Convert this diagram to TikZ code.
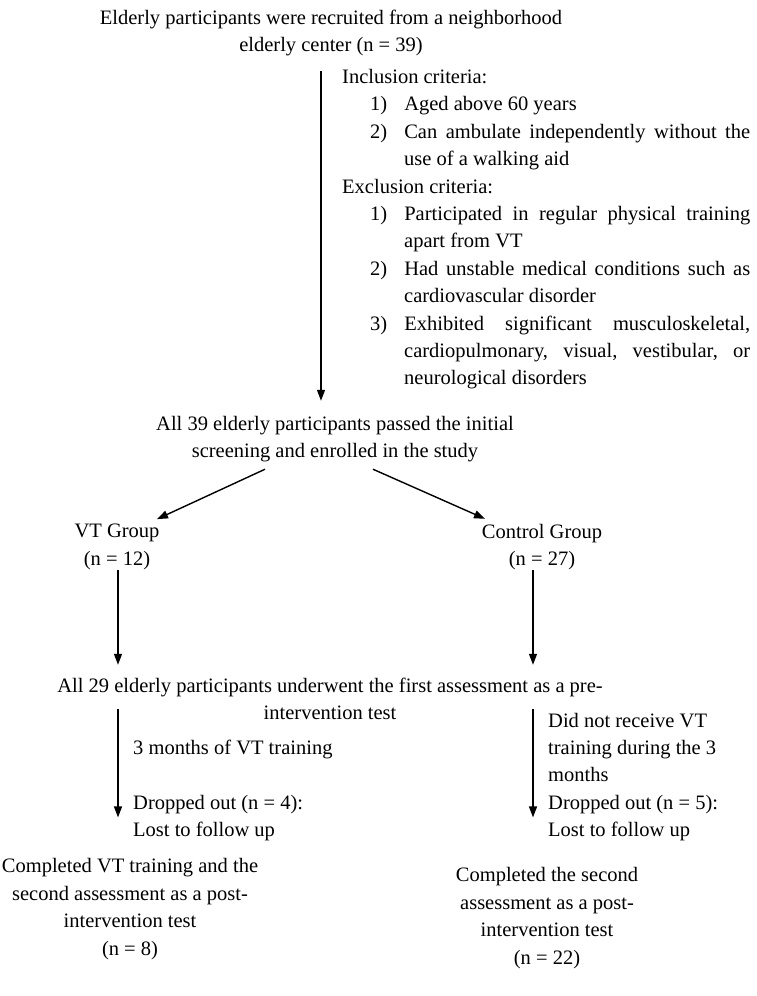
\documentclass[tikz,border=0pt]{standalone}
\usepackage{fontspec}
\setmainfont{Liberation Serif}
\usetikzlibrary{arrows.meta}
\newenvironment{critlist}{\begin{list}{}{\setlength{\leftmargin}{62pt}\setlength{\labelwidth}{17pt}\setlength{\labelsep}{17pt}\setlength{\itemsep}{0pt}\setlength{\parsep}{0pt}\setlength{\topsep}{0pt}\setlength{\partopsep}{0pt}\setlength{\rightmargin}{0pt}}}{\end{list}}
\begin{document}
\begin{tikzpicture}[x=1pt,y=-1pt,
  font=\fontsize{20.5}{27.4}\selectfont,
  every node/.style={inner sep=0pt},
  txt/.style={align=center},
  lefttxt/.style={align=left,anchor=west},
  arr/.style={line width=1.4pt,-{Triangle[length=11pt,width=8pt]}}]
\useasboundingbox (0,0) rectangle (756,996);
\fill[white] (0,0) rectangle (756,996);
\coordinate (vx) at (321,0);
\coordinate (lx) at (118,0);
\coordinate (rx) at (533,0);

\node[txt] (title) at (331,33) {Elderly participants were recruited from a neighborhood\\elderly center (n = 39)};

\node[anchor=north west,text width=408pt,align=justify] (crit) at (342,69) {%
Inclusion criteria:
\begin{critlist}
\item[1)] Aged above 60 years
\item[2)] Can ambulate independently without the\linebreak use of a walking aid
\end{critlist}
Exclusion criteria:
\begin{critlist}
\item[1)] Participated in regular physical training\linebreak apart from VT
\item[2)] Had unstable medical conditions such as\linebreak cardiovascular disorder
\item[3)] Exhibited significant musculoskeletal,\linebreak cardiopulmonary, visual, vestibular, or\linebreak neurological disorders
\end{critlist}};

\node[txt] (screen) at (335,439) {All 39 elderly participants passed the initial\\screening and enrolled in the study};

\node[txt] (vt) at (117,547) {VT Group\\(n = 12)};
\node[txt] (ctrl) at (542,547) {Control Group\\(n = 27)};

\node[txt] (pre) at (330,699) {All 29 elderly participants underwent the first assessment as a pre-\\intervention test};

\node[lefttxt] (train) at (133,749) {3 months of VT training};
\node[lefttxt] (dropl) at (133,818) {Dropped out (n = 4):\\Lost to follow up};
\node[lefttxt] (dropr) at (548,777) {Did not receive VT\\training during the 3\\months\\Dropped out (n = 5):\\Lost to follow up};

\node[txt] (cvt) at (130,909) {Completed VT training and the\\second assessment as a post-\\intervention test\\(n = 8)};
\node[txt] (cctl) at (547,918) {Completed the second\\assessment as a post-\\intervention test\\(n = 22)};

\draw[arr,shorten <=15pt,shorten >=15pt] (title.south -| vx) -- (screen.north -| vx);
\draw[arr] ([xshift=-70pt,yshift=-7pt]screen.south) -- ([xshift=40pt,yshift=5pt]vt.north);
\draw[arr] ([xshift=38pt,yshift=-7pt]screen.south) -- ([xshift=-57pt,yshift=5pt]ctrl.north);
\draw[arr,shorten >=13pt] (vt.south -| lx) -- (pre.north -| lx);
\draw[arr,shorten >=13pt] (ctrl.south -| rx) -- (pre.north -| rx);
\draw[arr,shorten <=31pt,shorten >=41pt] (pre.north -| lx) -- (cvt.north -| lx);
\draw[arr,shorten <=31pt,shorten >=50pt] (pre.north -| rx) -- (cctl.north -| rx);
\end{tikzpicture}
\end{document}
